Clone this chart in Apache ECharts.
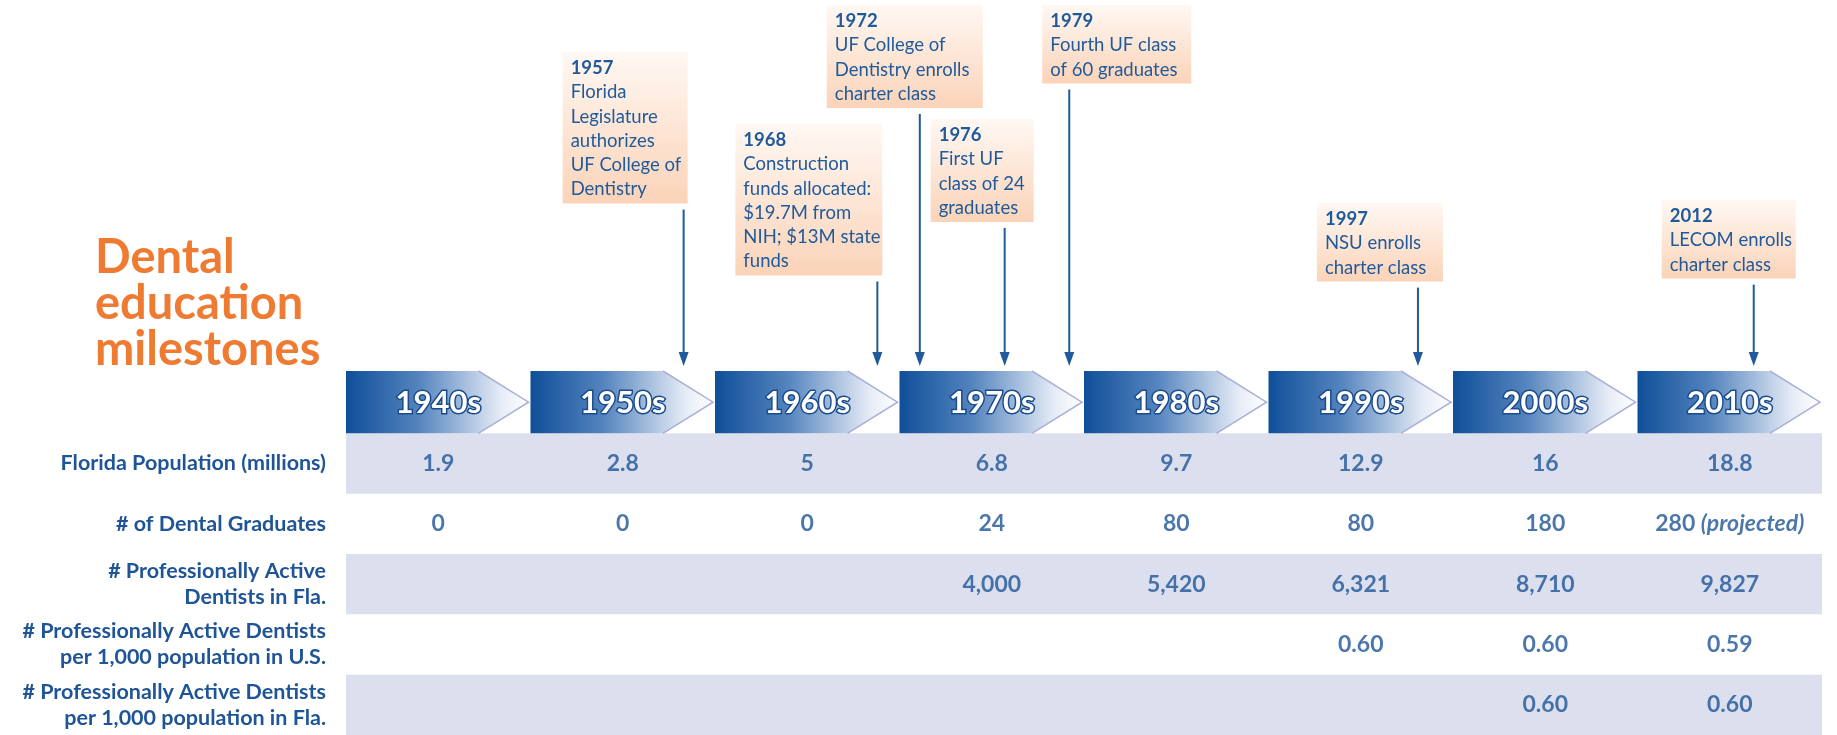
<!DOCTYPE html>
<html>
<head>
<meta charset="utf-8">
<script src="https://cdn.jsdelivr.net/npm/echarts@6/dist/echarts.min.js"></script>
<style>
  html, body { margin: 0; padding: 0; background: #fff; }
  #chart { width: 1837px; height: 735px; }
</style>
</head>
<body>
<div id="chart"></div>
<script>
// decades on the timeline
const decades = ['1940s', '1950s', '1960s', '1970s', '1980s', '1990s', '2000s', '2010s'];
const decadeStart = [1940, 1950, 1960, 1970, 1980, 1990, 2000, 2010];

// table rows (first row is the decade band)
const rowLabels = [
  '',
  'Florida Population (millions)',
  '# of Dental Graduates',
  '# Professionally Active\nDentists in Fla.',
  '# Professionally Active Dentists\nper 1,000 population in U.S.',
  '# Professionally Active Dentists\nper 1,000 population in Fla.'
];
const floridaPop = [1.9, 2.8, 5, 6.8, 9.7, 12.9, 16, 18.8];
const dentalGrads = [0, 0, 0, 24, 80, 80, 180, 280];
const gradsProjected = [false, false, false, false, false, false, false, true];
const activeDentistsFla = [null, null, null, 4000, 5420, 6321, 8710, 9827];
const perThousandUS = [null, null, null, null, null, 0.60, 0.60, 0.59];
const perThousandFla = [null, null, null, null, null, null, 0.60, 0.60];

// milestones
const milestoneYears = [1957, 1968, 1972, 1976, 1979, 1997, 2012];
const milestoneText = [
  ['Florida', 'Legislature', 'authorizes', 'UF College of', 'Dentistry'],
  ['Construction', 'funds allocated:', '$19.7M from', 'NIH; $13M state', 'funds'],
  ['UF College of', 'Dentistry enrolls', 'charter class'],
  ['First UF', 'class of 24', 'graduates'],
  ['Fourth UF class', 'of 60 graduates'],
  ['NSU enrolls', 'charter class'],
  ['LECOM enrolls', 'charter class']
];
// where each arrow meets the timeline (in years)
const milestoneAt = [1958.3, 1968.8, 1971.1, 1975.7, 1979.2, 1998.1, 2016.3];

// box placement relative to its arrow (pixels)
const boxLayout = [
  { dx: -121, w: 125, y: 68 },
  { dx: -142, w: 147, y: 140 },
  { dx: -93, w: 156, y: 21 },
  { dx: -74, w: 103, y: 135 },
  { dx: -27, w: 149, y: 21 },
  { dx: -101, w: 126, y: 219 },
  { dx: -92, w: 134, y: 216 }
];

const BLUE = '#1f5597';
const FONT = 'Lato';

const chart = echarts.init(document.getElementById('chart'));

function renderStripe(params, api) {
  const cs = params.coordSys;
  const c = api.coord([1940, api.value(1)]);
  const h = api.size([10, 1])[1];
  return {
    type: 'rect',
    shape: { x: cs.x, y: c[1] - h / 2, width: cs.width, height: h },
    style: { fill: '#dcdfee' }
  };
}

function renderDecade(params, api) {
  const c = api.coord([api.value(0), api.value(1)]);
  const s = api.size([10, 1]);
  const x0 = c[0], w = s[0] - 2, h = s[1] + 2;
  const y0 = c[1] - s[1] / 2 - 2, y1 = y0 + h, ym = (y0 + y1) / 2;
  const tip = 50;
  return {
    type: 'group',
    children: [
      {
        type: 'polygon',
        shape: { points: [[x0, y0], [x0 + w - tip, y0], [x0 + w, ym], [x0 + w - tip, y1], [x0, y1]] },
        style: {
          fill: new echarts.graphic.LinearGradient(0, 0, 1, 0, [
            { offset: 0, color: '#0f4f99' },
            { offset: 0.4, color: '#5584be' },
            { offset: 0.85, color: '#e6ecf6' },
            { offset: 1, color: '#ffffff' }
          ])
        }
      },
      {
        type: 'polyline',
        shape: { points: [[x0 + w - tip, y0], [x0 + w, ym], [x0 + w - tip, y1]] },
        style: { stroke: '#a9b0d8', lineWidth: 1.5, fill: null }
      },
      {
        type: 'text',
        style: {
          text: decades[params.dataIndex],
          x: x0 + s[0] / 2, y: ym + 1,
          align: 'center', verticalAlign: 'middle',
          fontFamily: FONT, fontWeight: 'bold', fontSize: 31,
          fill: '#ffffff', stroke: '#1a4c8c', lineWidth: 3
        }
      }
    ]
  };
}

function renderMilestone(params, api) {
  const i = params.dataIndex;
  const x = api.coord([api.value(0), 0])[0];
  const cs = params.coordSys;
  const L = boxLayout[i];
  const lines = [String(milestoneYears[i])].concat(milestoneText[i]);
  const lh = 24.3;
  const top = cs.y + L.y - 16;
  const bottom = cs.y + L.y + (lines.length - 1) * lh + 14;
  const children = [{
    type: 'rect',
    shape: { x: x + L.dx, y: top, width: L.w, height: bottom - top },
    style: {
      fill: new echarts.graphic.LinearGradient(0, 0, 0, 1, [
        { offset: 0, color: '#fff8f3' },
        { offset: 1, color: '#fbd3b8' }
      ])
    }
  }];
  lines.forEach((t, k) => {
    children.push({
      type: 'text',
      style: {
        text: t,
        x: x + L.dx + 8, y: cs.y + L.y + k * lh,
        verticalAlign: 'middle',
        fontFamily: FONT, fontSize: 18.5, fontWeight: k === 0 ? 'bold' : 'normal',
        fill: '#1f5a9b'
      }
    });
  });
  const yEnd = cs.y + cs.height - 6;
  children.push({
    type: 'line',
    shape: { x1: x, y1: bottom + 6, x2: x, y2: yEnd - 10 },
    style: { stroke: '#1f5a9b', lineWidth: 2 }
  });
  children.push({
    type: 'polygon',
    shape: { points: [[x - 5, yEnd - 14], [x + 5, yEnd - 14], [x, yEnd]] },
    style: { fill: '#1f5a9b' }
  });
  return { type: 'group', children };
}

function rowSeries(values, row, fmt) {
  const data = [];
  values.forEach((v, i) => {
    if (v !== null) data.push([decadeStart[i] + 5, row, v, i]);
  });
  return {
    type: 'scatter',
    xAxisIndex: 0, yAxisIndex: 0,
    symbolSize: 0,
    data: data,
    z: 5,
    label: {
      show: true,
      position: 'inside',
      formatter: p => fmt(p.value[2], p.value[3]),
      fontFamily: FONT, fontSize: 23, fontWeight: 'bold', color: BLUE,
      rich: {
        p: { fontFamily: FONT, fontSize: 23, fontWeight: 'bold', fontStyle: 'italic', color: BLUE }
      }
    }
  };
}

chart.setOption({
  animation: false,
  title: {
    text: 'Dental\neducation\nmilestones',
    left: 90, top: 230,
    textStyle: { color: '#ef7b33', fontFamily: FONT, fontWeight: 'bold', fontSize: 47, lineHeight: 46 }
  },
  grid: [
    { left: 346, right: 15, top: 373, bottom: 0 },
    { left: 346, right: 15, top: 0, height: 372 }
  ],
  xAxis: [
    { type: 'value', min: 1940, max: 2020, show: false, gridIndex: 0 },
    { type: 'value', min: 1940, max: 2020, show: false, gridIndex: 1 }
  ],
  yAxis: [
    {
      type: 'category', data: rowLabels, inverse: true, gridIndex: 0,
      axisLine: { show: false }, axisTick: { show: false }, splitLine: { show: false },
      axisLabel: {
        margin: 20, color: BLUE, fontFamily: FONT, fontWeight: 'bold', fontSize: 21.5,
        lineHeight: 26, align: 'right'
      }
    },
    { type: 'value', min: 0, max: 1, show: false, gridIndex: 1 }
  ],
  series: [
    {
      type: 'custom', xAxisIndex: 0, yAxisIndex: 0, z: 1,
      data: [[1940, 1], [1940, 3], [1940, 5]],
      renderItem: renderStripe
    },
    {
      type: 'custom', xAxisIndex: 0, yAxisIndex: 0, z: 2,
      data: decadeStart.map(d => [d, 0]),
      renderItem: renderDecade
    },
    rowSeries(floridaPop, 1, v => String(v)),
    rowSeries(dentalGrads, 2, (v, i) => gradsProjected[i] ? v + ' {p|(projected)}' : String(v)),
    rowSeries(activeDentistsFla, 3, v => v.toLocaleString('en-US')),
    rowSeries(perThousandUS, 4, v => v.toFixed(2)),
    rowSeries(perThousandFla, 5, v => v.toFixed(2)),
    {
      type: 'custom', xAxisIndex: 1, yAxisIndex: 1, z: 3,
      data: milestoneAt.map(a => [a, 0]),
      renderItem: renderMilestone
    }
  ]
});
</script>
</body>
</html>
